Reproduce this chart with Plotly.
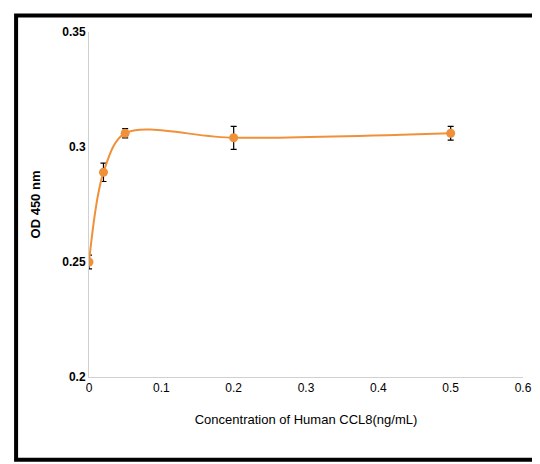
import plotly.graph_objects as go

conc = [0, 0.02, 0.05, 0.2, 0.5]
od = [0.250, 0.289, 0.306, 0.304, 0.306]
err = [0.003, 0.004, 0.002, 0.005, 0.003]
xticks = [0, 0.1, 0.2, 0.3, 0.4, 0.5, 0.6]
yticks = [0.2, 0.25, 0.3, 0.35]
orange = "#F0913A"

fig = go.Figure(go.Scatter(
    x=conc, y=od, mode="lines+markers",
    line=dict(color=orange, width=2, shape="spline", smoothing=0.9),
    marker=dict(color=orange, size=9),
    error_y=dict(type="data", array=err, color="black", thickness=1.2, width=3),
))
fig.update_layout(
    width=540, height=464, margin=dict(l=81, r=25, t=24, b=95),
    paper_bgcolor="white", plot_bgcolor="white", showlegend=False,
    font=dict(family="Liberation Sans", color="black", size=12),
    xaxis=dict(range=[0, 0.6], tickvals=xticks, ticktext=[f"{v:g}" for v in xticks],
               showgrid=False, zeroline=False, automargin=False,
               showline=True, linecolor="#d0d0d0", ticks="",
               title=dict(text="Concentration of Human CCL8(ng/mL)", font=dict(size=13), standoff=20)),
    yaxis=dict(range=[0.2, 0.35], tickvals=yticks, ticktext=[f"<b>{v:g}</b>" for v in yticks],
               showgrid=False, zeroline=False, automargin=False,
               showline=True, linecolor="#d0d0d0", ticks="",
               title=dict(text="<b>OD 450 nm</b>", font=dict(size=13), standoff=18)),
    shapes=[dict(type="rect", xref="paper", yref="paper",
                 x0=-0.168, x1=1.04, y0=-0.24, y1=1.048,
                 line=dict(color="black", width=4))],
)
fig.write_html("out.html")
